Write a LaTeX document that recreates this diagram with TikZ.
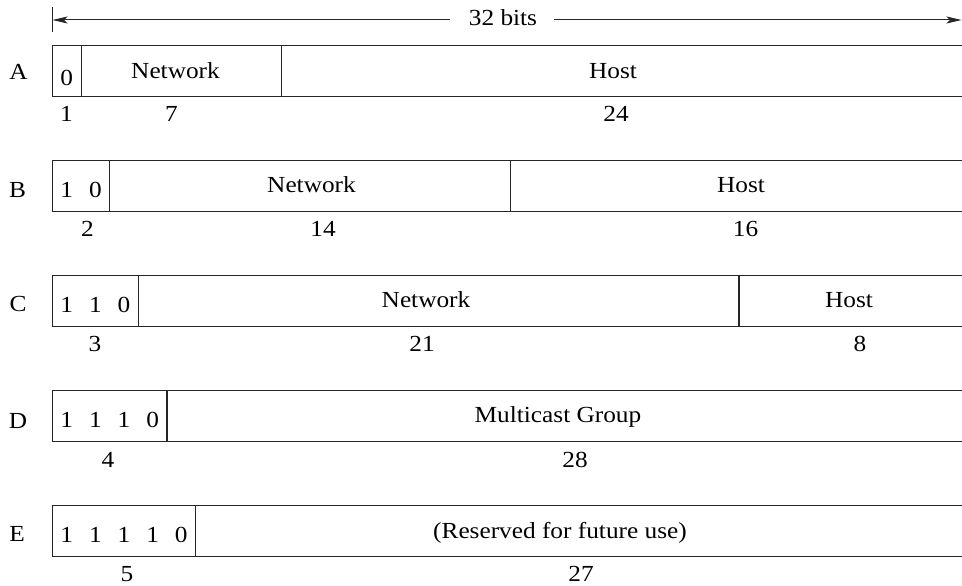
\documentclass[tikz,border=0pt]{standalone}
\usepackage{fontspec}
\setmainfont{Liberation Serif}[FakeStretch=1.1]
\usetikzlibrary{arrows.meta}
\begin{document}
\begin{tikzpicture}[x=1pt,y=-1pt,
  txt/.style={font=\fontsize{23}{27}\selectfont, inner sep=0pt, anchor=base},
  frame/.style={line width=1.2pt, draw=black!85},
  span/.style={line width=1pt, draw=black!85},
  tip/.style={-{Stealth[length=15pt,width=7pt,inset=3.5pt]}}]
\useasboundingbox (0,0) rectangle (962,586);
\clip (0,0) rectangle (962,586);

% bit position -> x: 52.5 + 28.6*bit
% ---------- overall width ----------
\node[txt] (width) at (503,26) {32 bits};
\coordinate (wl) at (52.5,20);
\coordinate (wr) at (961.5,20);
\coordinate (bartop) at (52.5,7);
\coordinate (barbot) at (52.5,32);
\draw[span] (bartop) -- (barbot);
\draw[span,tip] ([xshift=-19pt]width.west |- wl) -- (wl);
\draw[span,tip] ([xshift=17pt]width.east |- wr) -- (wr);

% ---------- class A ----------
\draw[frame] (52.5,45.5) rectangle (972,96.5);
\draw[frame] ({52.5+28.6*1},45.5) -- ({52.5+28.6*1},96.5);
\draw[frame] ({52.5+28.6*8},45.5) -- ({52.5+28.6*8},96.5);
\node[txt] (rowA) at (18.5,79.5) {A};
\node[txt] (a0) at (66.8,86) {0};
\node[txt] (anet) at (175.5,78) {Network};
\node[txt] (ahost) at (613,78) {Host};
\node[txt] (an1) at (66.5,121.5) {1};
\node[txt] (an2) at (171.5,121.5) {7};
\node[txt] (an3) at (616,121.5) {24};

% ---------- class B ----------
\draw[frame] (52.5,160.4) rectangle (972,211.4);
\draw[frame] ({52.5+28.6*2},160.4) -- ({52.5+28.6*2},211.4);
\draw[frame] ({52.5+28.6*16},160.4) -- ({52.5+28.6*16},211.4);
\node[txt] (rowB) at (17.5,197) {B};
\node[txt] (b1) at (66.8,197.3) {1};
\node[txt] (b2) at (95.4,197.3) {0};
\node[txt] (bnet) at (311.5,192.9) {Network};
\node[txt] (bhost) at (741,192.9) {Host};
\node[txt] (bn1) at (87.5,236.5) {2};
\node[txt] (bn2) at (323,236.5) {14};
\node[txt] (bn3) at (745.5,236.5) {16};

% ---------- class C ----------
\draw[frame] (52.5,275.3) rectangle (972,326.3);
\draw[frame] ({52.5+28.6*3},275.3) -- ({52.5+28.6*3},326.3);
\draw[frame] ({52.5+28.6*24},275.3) -- ({52.5+28.6*24},326.3);
\node[txt] (rowC) at (18,311.8) {C};
\node[txt] (c1) at (66.8,312.3) {1};
\node[txt] (c2) at (95.4,312.3) {1};
\node[txt] (c3) at (124.0,312.3) {0};
\node[txt] (cnet) at (426,307.8) {Network};
\node[txt] (chost) at (849,307.8) {Host};
\node[txt] (cn1) at (95,351.5) {3};
\node[txt] (cn2) at (422,351.5) {21};
\node[txt] (cn3) at (860,351.5) {8};

% ---------- class D ----------
\draw[frame] (52.5,390.2) rectangle (972,441.2);
\draw[frame] ({52.5+28.6*4},390.2) -- ({52.5+28.6*4},441.2);
\node[txt] (rowD) at (18,428.3) {D};
\node[txt] (d1) at (66.8,427.7) {1};
\node[txt] (d2) at (95.4,427.7) {1};
\node[txt] (d3) at (124.0,427.7) {1};
\node[txt] (d4) at (152.6,427.7) {0};
\node[txt] (dgrp) at (558,422.7) {Multicast Group};
\node[txt] (dn1) at (108,467) {4};
\node[txt] (dn2) at (575,467) {28};

% ---------- class E ----------
\draw[frame] (52.5,505.1) rectangle (972,556.1);
\draw[frame] ({52.5+28.6*5},505.1) -- ({52.5+28.6*5},556.1);
\node[txt] (rowE) at (17,541.5) {E};
\node[txt] (e1) at (66.8,542) {1};
\node[txt] (e2) at (95.4,542) {1};
\node[txt] (e3) at (124.0,542) {1};
\node[txt] (e4) at (152.6,542) {1};
\node[txt] (e5) at (181.2,542) {0};
\node[txt] (eres) at (560,538.5) {(Reserved for future use)};
\node[txt] (en1) at (127,581) {5};
\node[txt] (en2) at (581,581) {27};
\end{tikzpicture}
\end{document}
